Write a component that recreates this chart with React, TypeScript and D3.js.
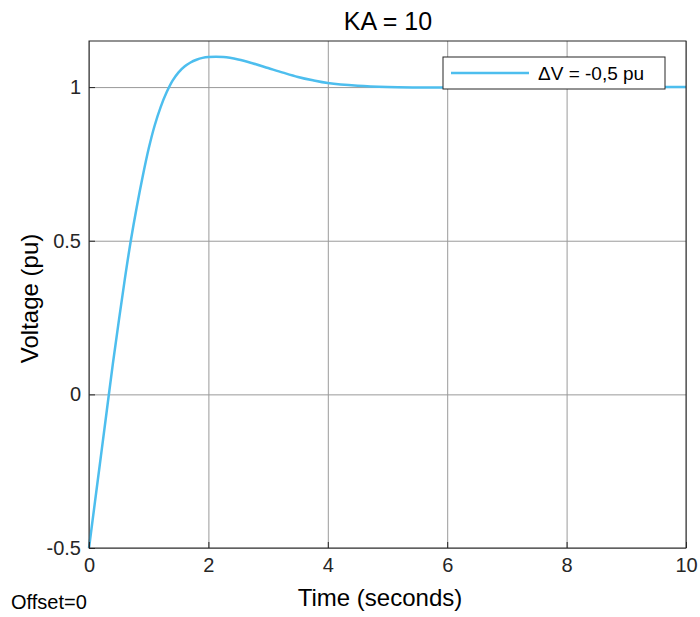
import React, { useEffect, useRef } from 'react';
import * as d3 from 'd3';

// Step response
const timeValues = [0, 0.1, 0.2, 0.3, 0.4, 0.5, 0.6, 0.7, 0.8, 0.9, 1.0, 1.1, 1.2, 1.3, 1.4, 1.5, 1.6, 1.7, 1.8, 1.9, 2.0, 2.25, 2.5, 2.75, 3.0, 3.25, 3.5, 3.75, 4.0, 4.5, 5.0, 5.5, 6, 7, 8, 9, 10];
const voltageValues = [-0.5, -0.35, -0.2, -0.05, 0.1, 0.24, 0.375, 0.5, 0.61, 0.71, 0.8, 0.875, 0.935, 0.983, 1.021, 1.048, 1.067, 1.08, 1.089, 1.095, 1.098, 1.098, 1.09, 1.077, 1.062, 1.047, 1.033, 1.022, 1.013, 1.004, 1.0, 0.999, 0.999, 1.0, 1.0, 1.0, 1.0];
const xTicks = [0, 2, 4, 6, 8, 10];
const yTicks = [-0.5, 0, 0.5, 1];
const seriesLabel = 'ΔV = -0,5 pu';

const App: React.FC = () => {
  const svgRef = useRef<SVGSVGElement>(null);

  useEffect(() => {
    const W = 700;
    const H = 617;
    const margin = { top: 41, right: 14, bottom: 69, left: 89 };
    const width = W - margin.left - margin.right;
    const height = H - margin.top - margin.bottom;

    const root = d3.select(svgRef.current);
    root.selectAll('*').remove();
    root.attr('width', W).attr('height', H).style('background', '#fff');

    const font = 'Arial, "Liberation Sans", sans-serif';

    const x = d3.scaleLinear().domain([0, 10]).range([0, width]);
    const y = d3.scaleLinear().domain([-0.5, 1.15]).range([height, 0]);

    const g = root.append('g').attr('transform', `translate(${margin.left},${margin.top})`);

    // grid
    g.append('g')
      .call(d3.axisBottom(x).tickValues(xTicks).tickSize(height).tickFormat(() => ''))
      .call(s => s.select('.domain').remove())
      .selectAll('line')
      .attr('stroke', '#9a9a9a');
    g.append('g')
      .call(d3.axisRight(y).tickValues(yTicks).tickSize(width).tickFormat(() => ''))
      .call(s => s.select('.domain').remove())
      .selectAll('line')
      .attr('stroke', '#9a9a9a');

    // data line
    const data = timeValues.map((t, i) => ({ t, v: voltageValues[i] }));
    const line = d3.line<{ t: number; v: number }>()
      .x(d => x(d.t))
      .y(d => y(d.v))
      .curve(d3.curveCatmullRom);
    g.append('path')
      .datum(data)
      .attr('d', line)
      .attr('fill', 'none')
      .attr('stroke', '#4dbeee')
      .attr('stroke-width', 2.5);

    // axes box
    g.append('rect')
      .attr('width', width)
      .attr('height', height)
      .attr('fill', 'none')
      .attr('stroke', '#262626')
      .attr('stroke-width', 1);

    // tick labels
    const xAxis = g.append('g')
      .attr('transform', `translate(0,${height})`)
      .call(d3.axisBottom(x).tickValues(xTicks).tickSize(-6).tickPadding(10).tickFormat(d => String(d)));
    xAxis.select('.domain').remove();
    xAxis.selectAll('line').attr('stroke', '#262626');
    xAxis.selectAll('text')
      .attr('font-family', font)
      .attr('font-size', 20)
      .attr('fill', '#262626');

    const yAxis = g.append('g')
      .call(d3.axisLeft(y).tickValues(yTicks).tickSize(-6).tickPadding(8).tickFormat(d => String(d)));
    yAxis.select('.domain').remove();
    yAxis.selectAll('line').attr('stroke', '#262626');
    yAxis.selectAll('text')
      .attr('font-family', font)
      .attr('font-size', 20)
      .attr('fill', '#262626');

    // title
    root.append('text')
      .attr('x', 388)
      .attr('y', 30)
      .attr('text-anchor', 'middle')
      .attr('font-family', font)
      .attr('font-size', 25)
      .attr('fill', '#000')
      .text('KA = 10');

    // axis labels
    root.append('text')
      .attr('x', 380)
      .attr('y', 606)
      .attr('text-anchor', 'middle')
      .attr('font-family', font)
      .attr('font-size', 24)
      .attr('fill', '#000')
      .text('Time (seconds)');

    root.append('text')
      .attr('transform', `translate(38,${margin.top + height / 2 + 4}) rotate(-90)`)
      .attr('text-anchor', 'middle')
      .attr('font-family', font)
      .attr('font-size', 24)
      .attr('fill', '#000')
      .text('Voltage (pu)');

    root.append('text')
      .attr('x', 11)
      .attr('y', 609)
      .attr('font-family', font)
      .attr('font-size', 20)
      .attr('fill', '#000')
      .text('Offset=0');

    // legend
    const lg = root.append('g').attr('transform', 'translate(443,57)');
    lg.append('rect')
      .attr('width', 222)
      .attr('height', 32)
      .attr('fill', '#fff')
      .attr('stroke', '#262626')
      .attr('stroke-width', 1);
    lg.append('line')
      .attr('x1', 8)
      .attr('x2', 86)
      .attr('y1', 16)
      .attr('y2', 16)
      .attr('stroke', '#4dbeee')
      .attr('stroke-width', 2.5);
    lg.append('text')
      .attr('x', 95)
      .attr('y', 23)
      .attr('font-family', font)
      .attr('font-size', 19)
      .attr('fill', '#000')
      .text(seriesLabel);
  }, []);

  return (
    <svg ref={svgRef} style={{ position: 'absolute', left: 0, top: 0 }}></svg>
  );
};

export default App;
